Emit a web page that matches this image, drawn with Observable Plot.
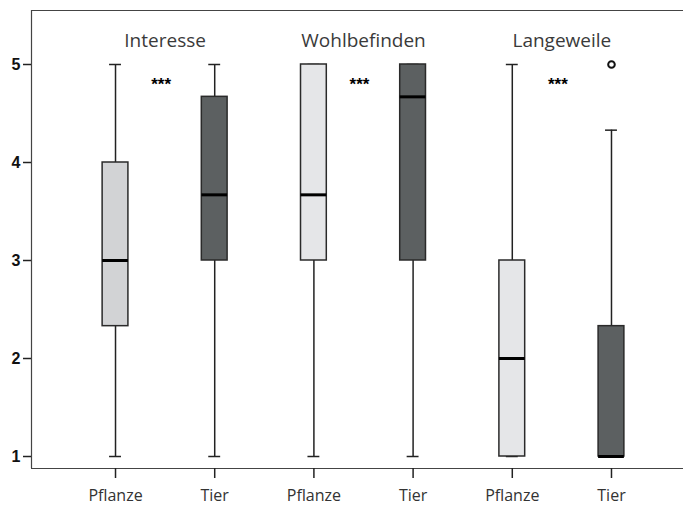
<!DOCTYPE html>
<html>
<head>
<meta charset="utf-8">
<script src="https://cdn.jsdelivr.net/npm/d3@7"></script>
<script src="https://cdn.jsdelivr.net/npm/@observablehq/plot@0.6"></script>
<style>
  html, body { margin: 0; padding: 0; background: #fff; overflow: hidden; }
  #chart { width: 683px; height: 509px; overflow: hidden; }
</style>
</head>
<body>
<div id="chart"></div>
<script>
// ---- data ----
const categories = ["Pflanze", "Tier", "Pflanze", "Tier", "Pflanze", "Tier"];
const groups = ["Interesse", "Wohlbefinden", "Langeweile"];
const whiskerLow  = [1, 1, 1, 1, 1, 1];
const q1          = [2.33, 3, 3, 3, 1, 1];
const median      = [3, 3.67, 3.67, 4.67, 2, 1];
const q3          = [4, 4.67, 5, 5, 3, 2.33];
const whiskerHigh = [5, 5, 5, 5, 5, 4.33];
const outlierIndex = [5];
const outlierValue = [5];
const significance = ["***", "***", "***"];
const yTicks = [1, 2, 3, 4, 5];

// ---- styles ----
const boxFill = ["#d2d3d5", "#5c6061", "#e5e6e8", "#5c6061", "#e5e6e8", "#5c6061"];
const boxHalf = 0.13;
const capHalf = 0.06;

const boxes = categories.map((c, i) => ({
  i, c, lo: whiskerLow[i], q1: q1[i], med: median[i], q3: q3[i], hi: whiskerHigh[i], fill: boxFill[i]
}));
const outliers = outlierIndex.map((i, k) => ({i, v: outlierValue[k]}));
const groupRows = groups.map((g, k) => ({g, x: 2 * k + 0.5, s: significance[k]}));

const yMin = 0.8776, yMax = 5.551;
const xMin = -0.847, xMax = 5.847;

const humanist = "'Open Sans', 'DejaVu Sans', sans-serif";

const chart = Plot.plot({
  width: 683,
  height: 509,
  marginLeft: 31,
  marginRight: -12,
  marginTop: 10,
  marginBottom: 41,
  style: {background: "#fff", overflow: "hidden"},
  x: {type: "linear", domain: [xMin, xMax], axis: null},
  y: {domain: [yMin, yMax], axis: null},
  marks: [
    // frame lines
    Plot.ruleY([yMin, yMax], {stroke: "#444", strokeWidth: 1.2}),
    Plot.ruleX([xMin], {stroke: "#444", strokeWidth: 1.2}),
    // y axis
    Plot.axisY({
      ticks: yTicks, tickSize: 8, tickPadding: 3, tickFormat: d => d,
      stroke: "#222", strokeWidth: 1.5, fontSize: 16, fontWeight: "bold",
      fontFamily: "'Liberation Sans', Arial, sans-serif", fill: "#111", label: null
    }),
    // x axis
    Plot.axisX({
      ticks: categories.map((c, i) => i), tickSize: 10, tickPadding: 11,
      tickFormat: i => categories[i], stroke: "#222", strokeWidth: 1.5,
      fontSize: 16, fontFamily: humanist, fill: "#333", label: null
    }),
    // whiskers
    Plot.ruleX(boxes, {x: "i", y1: "lo", y2: "q1", stroke: "#222", strokeWidth: 1.5}),
    Plot.ruleX(boxes, {x: "i", y1: "q3", y2: "hi", stroke: "#222", strokeWidth: 1.5}),
    Plot.ruleY(boxes, {y: "lo", x1: d => d.i - capHalf, x2: d => d.i + capHalf, stroke: "#222", strokeWidth: 1.5}),
    Plot.ruleY(boxes, {y: "hi", x1: d => d.i - capHalf, x2: d => d.i + capHalf, stroke: "#222", strokeWidth: 1.5}),
    // boxes
    Plot.rect(boxes, {
      x1: d => d.i - boxHalf, x2: d => d.i + boxHalf, y1: "q1", y2: "q3",
      fill: d => d.fill, stroke: "#2a2a2a", strokeWidth: 1.5
    }),
    // medians
    Plot.ruleY(boxes, {y: "med", x1: d => d.i - boxHalf, x2: d => d.i + boxHalf, stroke: "#000", strokeWidth: 3}),
    // outliers
    Plot.dot(outliers, {x: "i", y: "v", r: 3.3, stroke: "#111", strokeWidth: 2, fill: "#fff"}),
    // group titles
    Plot.text(groupRows, {
      x: "x", y: () => 5.245, text: "g", fontSize: 19, fill: "#3a3a3a",
      fontFamily: humanist, letterSpacing: 1.5
    }),
    // significance stars
    Plot.text(groupRows, {
      x: "x", y: () => 4.8, dx: -4, text: "s", fontSize: 17, fontWeight: "bold", fill: "#000",
      fontFamily: "'Liberation Sans', Arial, sans-serif"
    })
  ]
});
document.getElementById("chart").appendChild(chart);
</script>
</body>
</html>
